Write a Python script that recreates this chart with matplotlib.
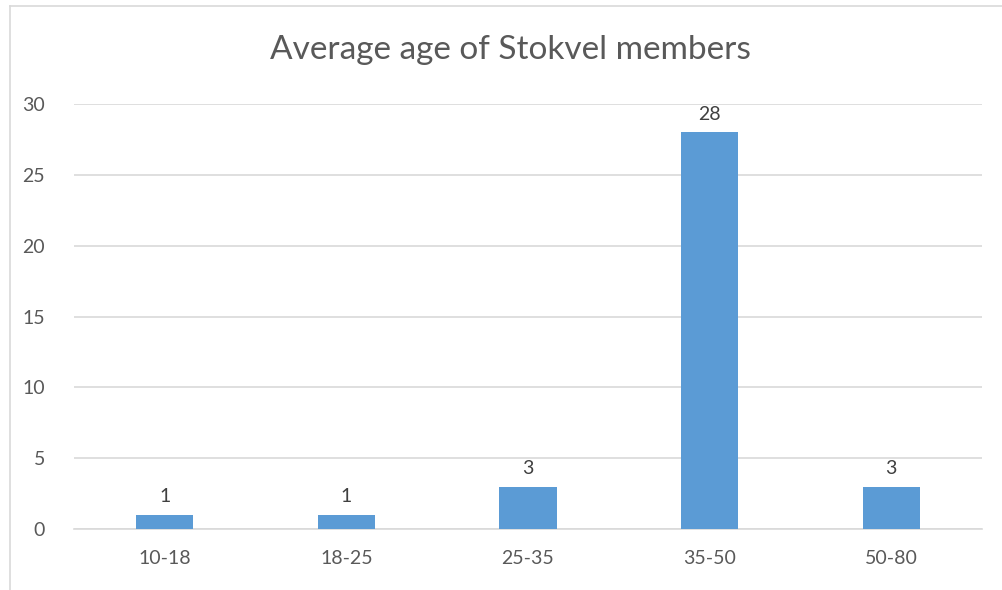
import numpy as np
import matplotlib
matplotlib.use("Agg")
import matplotlib.pyplot as plt
from matplotlib.lines import Line2D

# datos
grupos = ["10-18", "18-25", "25-35", "35-50", "50-80"]
miembros = [1, 1, 3, 28, 3]
marcas_y = [0, 5, 10, 15, 20, 25, 30]

azul = "#5B9BD5"
gris_txt = "#595959"
gris_linea = "#D9D9D9"

plt.rcParams['font.family'] = ['Lato', 'DejaVu Sans']

W, H = 1002, 590
fig = plt.figure(figsize=(W / 100, H / 100), dpi=100)
ax = fig.add_axes([74 / W, (H - 529) / H, (982 - 74) / W, (529 - 104) / H])

x = np.arange(len(grupos))
barras = ax.bar(x, miembros, width=0.315, color=azul, zorder=3)

for xi, val in zip(x, miembros):
    ax.annotate(str(val), (xi, val), xytext=(0, 7), textcoords="offset points",
                ha="center", va="bottom", fontsize=14, color="#404040")

ax.set_xlim(-0.5, len(grupos) - 0.5)
ax.set_ylim(0, 30)
ax.set_yticks(marcas_y)
ax.set_xticks(x)
ax.set_xticklabels(grupos)
ax.grid(axis="y", color=gris_linea, linewidth=1.2, zorder=0)
ax.tick_params(axis="both", length=0, labelsize=14, labelcolor=gris_txt)
ax.tick_params(axis="y", pad=21)
ax.tick_params(axis="x", pad=15)
for lado in ["top", "right", "left"]:
    ax.spines[lado].set_visible(False)
ax.spines["bottom"].set_color(gris_linea)
ax.spines["bottom"].set_linewidth(1.2)

fig.text(510 / W, 1 - 50 / H, "Average age of Stokvel members", ha="center", va="center",
         fontsize=24, color=gris_txt)

# marco del gráfico
fig.add_artist(Line2D([9.5 / W, 1], [1 - 5.5 / H, 1 - 5.5 / H], color=gris_linea, linewidth=1.2))
fig.add_artist(Line2D([9.5 / W, 9.5 / W], [0, 1 - 5.5 / H], color=gris_linea, linewidth=1.2))

fig.savefig("out.png", dpi=100)
